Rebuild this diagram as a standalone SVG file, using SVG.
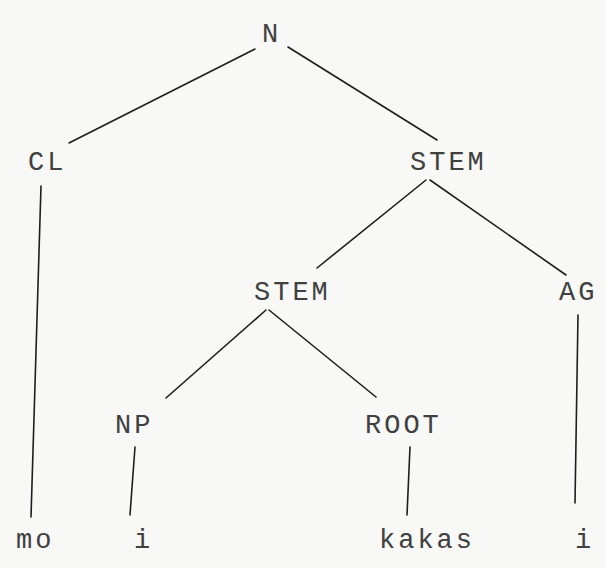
<svg xmlns="http://www.w3.org/2000/svg" width="605" height="568" viewBox="0 0 605 568">
  <style>
    .lbl { font-family: "Liberation Mono", "DejaVu Sans Mono", monospace; font-size: 27px; letter-spacing: 3px; fill: #404040; }
    .mid { text-anchor: middle; letter-spacing: 0; }
    .edge { stroke: #1e1e1e; stroke-width: 1.6; fill: none; stroke-linecap: round; }
  </style>
  <rect width="605" height="568" fill="#f8f8f6"/>

  <!-- tree branches -->
  <g id="connectors">
    <line class="edge" x1="255" y1="49" x2="69" y2="143"/>
    <line class="edge" x1="288" y1="47" x2="437" y2="140"/>
    <line class="edge" x1="41" y1="186" x2="31" y2="517"/>
    <line class="edge" x1="426" y1="180" x2="317" y2="268"/>
    <line class="edge" x1="430" y1="180" x2="566" y2="275"/>
    <line class="edge" x1="578" y1="315" x2="575" y2="503"/>
    <line class="edge" x1="266" y1="310" x2="166" y2="398"/>
    <line class="edge" x1="269" y1="310" x2="376" y2="397"/>
    <line class="edge" x1="135" y1="447" x2="130" y2="515"/>
    <line class="edge" x1="410" y1="447" x2="407" y2="515"/>
  </g>

  <!-- category nodes -->
  <g id="n-root"><text class="lbl mid" x="270" y="42">N</text></g>
  <g id="n-cl"><text class="lbl" x="28" y="170">CL</text></g>
  <g id="n-stem"><text class="lbl" x="410" y="170">STEM</text></g>
  <g id="n-stem2"><text class="lbl" x="254" y="300">STEM</text></g>
  <g id="n-ag"><text class="lbl" x="559" y="300">AG</text></g>
  <g id="n-np"><text class="lbl" x="115" y="433">NP</text></g>
  <g id="n-rootm"><text class="lbl" x="365" y="433">ROOT</text></g>

  <!-- terminal morphs -->
  <g id="w-mo"><text class="lbl" x="16" y="548">mo</text></g>
  <g id="w-i1"><text class="lbl mid" x="142" y="548">i</text></g>
  <g id="w-kakas"><text class="lbl" x="379" y="548">kakas</text></g>
  <g id="w-i2"><text class="lbl mid" x="583" y="548">i</text></g>
</svg>
